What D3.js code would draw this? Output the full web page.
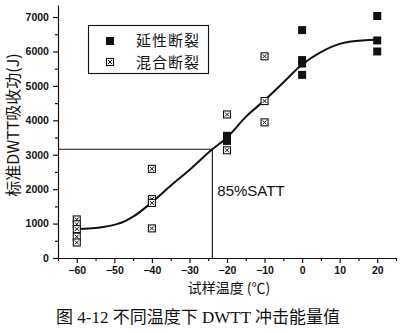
<!DOCTYPE html>
<html><head><meta charset="utf-8">
<script src="https://cdn.jsdelivr.net/npm/d3@7"></script>
<style>body{margin:0;background:#fff}svg{display:block}</style>
</head><body>
<script>
const ductileTemp = [-20, -20, 0, 0, 0, 0, 20, 20, 20];
const ductileEnergy = [3550, 3400, 6620, 5750, 5650, 5320, 7030, 6320, 6000];
const mixedTemp = [-60, -60, -60, -60, -60, -40, -40, -40, -40, -20, -20, -10, -10, -10];
const mixedEnergy = [1120, 980, 840, 620, 450, 2590, 1710, 1600, 860, 4170, 3130, 5860, 4560, 3940];
const fitTemp = [-60, -53, -47, -45, -40, -35, -30, -24, -20, -15, -10, -5, 0, 5, 10, 13, 20];
const fitEnergy = [840, 900, 1080, 1200, 1620, 2100, 2560, 3150, 3500, 4100, 4580, 5100, 5620, 5980, 6220, 6290, 6340];
const xTicks = [-60, -50, -40, -30, -20, -10, 0, 10, 20];
const yTicks = [0, 1000, 2000, 3000, 4000, 5000, 6000, 7000];
const satt = {temp: -23.9, energy: 3160, label: "85%SATT"};
const legendLabels = ["延性断裂", "混合断裂"];

const W = 404, H = 333;
const svg = d3.select("body").append("svg").attr("width", W).attr("height", H);
const x = d3.scaleLinear().domain([-65, 25]).range([58, 396]);
const y = d3.scaleLinear().domain([0, 7350]).range([258, 5]);

// axes
const xAxis = svg.append("g").attr("transform", "translate(0,258)")
  .call(d3.axisBottom(x).tickValues(xTicks).tickSize(5).tickSizeOuter(0).tickFormat(d3.format("d")));
svg.append("g").attr("transform", "translate(0,258)")
  .call(d3.axisBottom(x).tickValues(d3.range(-65, 26, 5).filter(v => !xTicks.includes(v))).tickSize(3).tickFormat("").tickSizeOuter(0))
  .select(".domain").remove();
const yAxis = svg.append("g").attr("transform", "translate(58,0)")
  .call(d3.axisLeft(y).tickValues(yTicks).tickSize(5).tickSizeOuter(0).tickFormat(d3.format("d")));
svg.append("g").attr("transform", "translate(58,0)")
  .call(d3.axisLeft(y).tickValues(d3.range(500, 7400, 1000)).tickSize(3).tickFormat("").tickSizeOuter(0))
  .select(".domain").remove();
svg.selectAll(".domain, .tick line").attr("stroke", "#111").attr("stroke-width", 1.2);
svg.selectAll(".tick text").attr("font-family", "Liberation Sans, Arial").attr("font-size", 10.5)
  .attr("font-weight", "bold").attr("fill", "#111");
xAxis.selectAll(".tick text").attr("dy", "0.75em");
yAxis.selectAll(".tick text").attr("dx", "-0.1em");

// SATT lines
svg.append("path")
  .attr("d", `M${x(-65)},${y(satt.energy)}H${x(satt.temp)}V${y(0)}`)
  .attr("fill", "none").attr("stroke", "#111").attr("stroke-width", 1.1);
svg.append("text").attr("x", x(satt.temp) + 5).attr("y", 196)
  .attr("font-family", "Liberation Sans, Arial").attr("font-size", 15).attr("fill", "#111").text(satt.label);

// fit curve
const line = d3.line().x(d => x(d[0])).y(d => y(d[1])).curve(d3.curveMonotoneX);
svg.append("path").datum(fitTemp.map((t, i) => [t, fitEnergy[i]]))
  .attr("d", line).attr("fill", "none").attr("stroke", "#111").attr("stroke-width", 2);

// markers
function crossSq(g, cx, cy, s) {
  g.append("rect").attr("x", cx - s/2).attr("y", cy - s/2).attr("width", s).attr("height", s)
    .attr("fill", "#fff").attr("stroke", "#111").attr("stroke-width", 1.1);
  g.append("path").attr("d", `M${cx - s/2 + 1.5},${cy - s/2 + 1.5}L${cx + s/2 - 1.5},${cy + s/2 - 1.5}M${cx + s/2 - 1.5},${cy - s/2 + 1.5}L${cx - s/2 + 1.5},${cy + s/2 - 1.5}`)
    .attr("stroke", "#111").attr("stroke-width", 1);
}
const mg = svg.append("g");
mixedTemp.forEach((t, i) => crossSq(mg, x(t), y(mixedEnergy[i]), 7));
const dg = svg.append("g");
ductileTemp.forEach((t, i) => {
  dg.append("rect").attr("x", x(t) - 4).attr("y", y(ductileEnergy[i]) - 4).attr("width", 8).attr("height", 8).attr("fill", "#111");
});

// legend
const lg = svg.append("g");
lg.append("rect").attr("x", 88.5).attr("y", 25.5).attr("width", 120).attr("height", 48)
  .attr("fill", "#fff").attr("stroke", "#111").attr("stroke-width", 1.1);
lg.append("rect").attr("x", 106).attr("y", 37).attr("width", 8).attr("height", 8).attr("fill", "#111");
crossSq(lg, 110, 62, 7);
legendLabels.forEach((t, i) => {
  lg.append("text").attr("x", 136).attr("y", 46 + i * 22).attr("font-family", "Noto Sans CJK SC")
    .attr("font-size", 15).attr("fill", "#111").attr("letter-spacing", 1).text(t);
});

// axis titles
svg.append("text").attr("transform", "translate(19,125) rotate(-90)").attr("text-anchor", "middle")
  .attr("font-family", "Noto Sans CJK SC").attr("font-size", 16).attr("fill", "#111").text("标准DWTT吸收功(J)");
svg.append("text").attr("x", 229).attr("y", 293).attr("text-anchor", "middle")
  .attr("font-family", "Noto Sans CJK SC").attr("font-size", 14).attr("fill", "#111").text("试样温度 (℃)");
svg.append("text").attr("x", 198).attr("y", 323).attr("text-anchor", "middle")
  .attr("font-family", "Liberation Serif, Noto Sans CJK SC").attr("font-size", 17).attr("fill", "#111")
  .text("图 4-12  不同温度下 DWTT 冲击能量值");
</script>
</body></html>
